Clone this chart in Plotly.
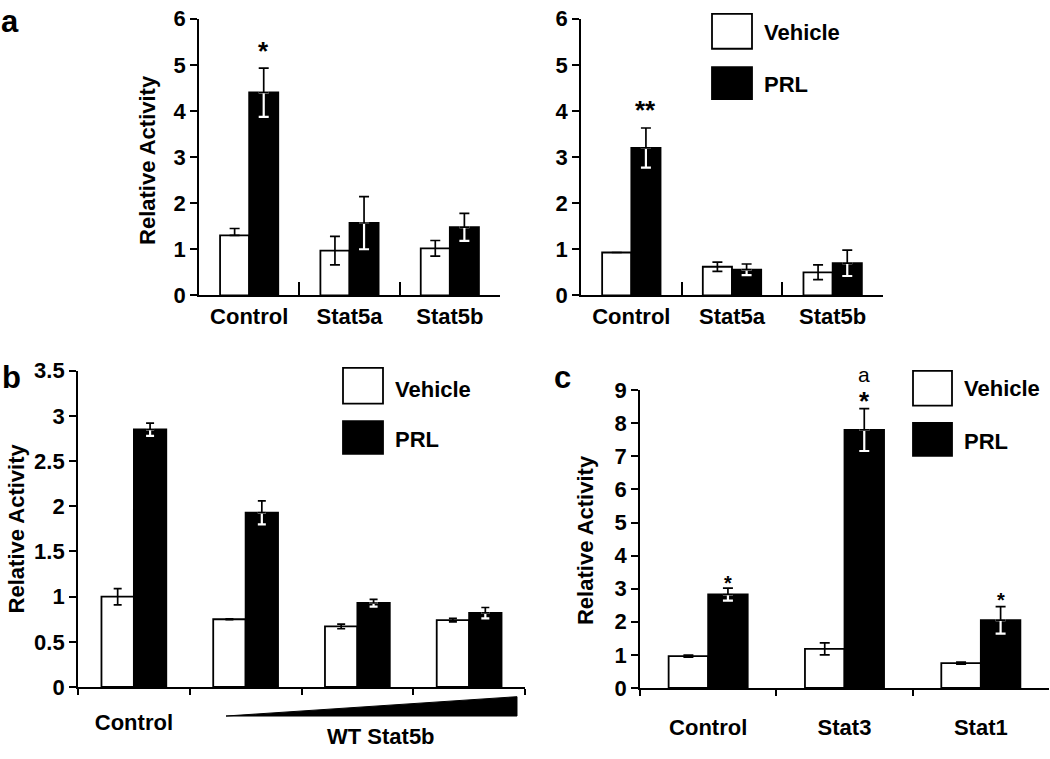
import plotly.graph_objects as go

# ---------------- data ----------------
a_cats = ["Control", "Stat5a", "Stat5b"]
a1_vehicle = [1.30, 0.97, 1.02]
a1_vehicle_err_hi = [0.15, 0.31, 0.17]
a1_vehicle_err_lo = [0.0, 0.31, 0.17]
a1_prl = [4.40, 1.57, 1.48]
a1_prl_err = [0.53, 0.57, 0.30]

a2_vehicle = [0.93, 0.62, 0.50]
a2_vehicle_err_hi = [0.0, 0.10, 0.16]
a2_vehicle_err_lo = [0.0, 0.10, 0.16]
a2_prl = [3.20, 0.56, 0.70]
a2_prl_err = [0.43, 0.12, 0.28]

b_cats = ["Control", "Stat5b low", "Stat5b mid", "Stat5b high"]
b_ticktext = ["Control", "", "", ""]
b_vehicle = [1.00, 0.75, 0.67, 0.74]
b_vehicle_err_hi = [0.09, 0.005, 0.025, 0.02]
b_vehicle_err_lo = [0.09, 0.005, 0.025, 0.02]
b_prl = [2.85, 1.93, 0.93, 0.82]
b_prl_err = [0.07, 0.13, 0.04, 0.06]

c_cats = ["Control", "Stat3", "Stat1"]
c_vehicle = [0.96, 1.18, 0.75]
c_vehicle_err_hi = [0.03, 0.18, 0.03]
c_vehicle_err_lo = [0.03, 0.18, 0.03]
c_prl = [2.83, 7.80, 2.05]
c_prl_err = [0.19, 0.64, 0.41]

# significance marks: (panel, category index, y, text, size, bold, extra px shift)
marks = [
    ("a1", 0, 5.20, "*", 26, True, 8),
    ("a2", 0, 3.93, "**", 26, True, 7),
    ("c", 0, 3.30, "*", 20, True, -2),
    ("c", 1, 8.77, "*", 26, True, 0),
    ("c", 1, 9.00, "a", 21, False, 16),
    ("c", 2, 2.78, "*", 20, True, -2),
]

FONT = "Liberation Sans, Arial, Helvetica, sans-serif"
W, H = 1050, 759

fig = go.Figure()

panels = {
    "a1": dict(ax="", cats=a_cats, v=a1_vehicle, vh=a1_vehicle_err_hi,
               vl=a1_vehicle_err_lo, p=a1_prl, pe=a1_prl_err, cap=5),
    "a2": dict(ax="2", cats=a_cats, v=a2_vehicle, vh=a2_vehicle_err_hi,
               vl=a2_vehicle_err_lo, p=a2_prl, pe=a2_prl_err, cap=5),
    "b": dict(ax="3", cats=b_cats, v=b_vehicle, vh=b_vehicle_err_hi,
              vl=b_vehicle_err_lo, p=b_prl, pe=b_prl_err, cap=4),
    "c": dict(ax="4", cats=c_cats, v=c_vehicle, vh=c_vehicle_err_hi,
              vl=c_vehicle_err_lo, p=c_prl, pe=c_prl_err, cap=5),
}

for key, P in panels.items():
    xa, ya = "x" + P["ax"], "y" + P["ax"]
    zeros = [0] * len(P["cats"])
    fig.add_trace(go.Bar(
        x=P["cats"], y=P["v"], xaxis=xa, yaxis=ya, offsetgroup="v",
        marker=dict(color="white", line=dict(color="black", width=1.8)),
        error_y=dict(type="data", array=P["vh"], arrayminus=P["vl"],
                     symmetric=False, color="black",
                     thickness=1.7, width=P["cap"]),
        showlegend=False, name="Vehicle"))
    fig.add_trace(go.Bar(
        x=P["cats"], y=P["p"], xaxis=xa, yaxis=ya, offsetgroup="p",
        marker=dict(color="black", line=dict(color="black", width=1.8)),
        error_y=dict(type="data", symmetric=False, array=zeros,
                     arrayminus=P["pe"], color="white", thickness=2.2,
                     width=P["cap"]),
        showlegend=False, name="PRL"))
    fig.add_trace(go.Bar(
        x=P["cats"], y=P["p"], xaxis=xa, yaxis=ya, offsetgroup="p",
        marker=dict(color="rgba(0,0,0,0)", line=dict(width=0)),
        error_y=dict(type="data", symmetric=False, array=P["pe"],
                     arrayminus=zeros, color="black", thickness=1.7,
                     width=P["cap"]),
        showlegend=False, name="PRL", hoverinfo="skip"))

axis_common = dict(showline=True, linecolor="black", linewidth=1.8,
                   showgrid=False, zeroline=False)


def set_axes(n, xdom, ydom, yrange, dtick, cats, ticktext, xticks, xticklen,
             standoff):
    sfx = n
    fig.layout["xaxis" + sfx] = dict(
        axis_common, domain=xdom, type="category", tickson="boundaries",
        tickmode="array", tickvals=cats, ticktext=ticktext,
        ticks=xticks, ticklen=xticklen, tickwidth=1.8, tickcolor="black",
        ticklabelstandoff=standoff,
        range=[-0.5, len(cats) - 0.5], anchor="y" + sfx,
        tickfont=dict(family=FONT, size=22, color="black", weight="bold"))
    fig.layout["yaxis" + sfx] = dict(
        axis_common, domain=ydom, range=yrange, dtick=dtick, tick0=0,
        ticks="outside", ticklen=7, tickwidth=1.8, tickcolor="black",
        anchor="x" + sfx,
        tickfont=dict(family=FONT, size=22, color="black", weight="bold"))


def px_x(x):
    return x / W


def px_y(y):
    return (H - y) / H


set_axes("", [px_x(199), px_x(500)], [px_y(293), px_y(7)], [0, 6], 1,
         a_cats, a_cats, "inside", 13, 0)
set_axes("2", [px_x(581), px_x(883)], [px_y(293), px_y(7)], [0, 6], 1,
         a_cats, a_cats, "inside", 13, 0)
set_axes("3", [px_x(78), px_x(525)], [px_y(698), px_y(371)], [0, 3.5], 0.5,
         b_cats, b_ticktext, "outside", 6, 15)
set_axes("4", [px_x(640), px_x(1049)], [px_y(699), px_y(391)], [0, 9], 1,
         c_cats, c_cats, "outside", 6, 19)

annotations = []
panel_axis = {k: P["ax"] for k, P in panels.items()}
for key, idx, yv, txt, size, bold, extra in marks:
    ax = panel_axis[key]
    annotations.append(dict(
        x=idx + 0.145, y=yv, xref="x" + ax, yref="y" + ax, text=txt,
        showarrow=False, xanchor="center", yanchor="middle",
        yshift=((-0.12 * size) if txt != "a" else 0) + extra,
        font=dict(family=FONT, size=size, color="black",
                  weight="bold" if bold else "normal")))

# y-axis titles
for (cx, cy) in [(148, 153), (16, 534), (585, 546)]:
    annotations.append(dict(
        x=px_x(cx), y=px_y(cy), xref="paper", yref="paper",
        xanchor="center", yanchor="middle",
        text="Relative Activity", textangle=-90, showarrow=False,
        font=dict(family=FONT, size=22, color="black", weight="bold")))

# panel letters
for (lx, ly, t) in [(10, 10, "a"), (11, 378, "b"), (562, 378, "c")]:
    annotations.append(dict(
        x=px_x(lx), y=px_y(ly), xref="paper", yref="paper", text=t,
        xanchor="center", yanchor="middle",
        showarrow=False, font=dict(family=FONT, size=31, color="black",
                                   weight="bold")))

# legends (boxes + labels)
shapes = []
legend_defs = [
    # white box x0,x1,y0,y1 ; black box y0,y1 ; text x ; text ys
    (712, 752, 2, 38, 57, 90, 762, 21, 75),
    (343, 383, 368, 405, 423, 457, 393, 390, 442),
    (913, 952, 371, 407, 425, 459, 962, 389, 444),
]
for x0, x1, wy0, wy1, by0, by1, tx, ty1, ty2 in legend_defs:
    shapes.append(dict(type="rect", xref="paper", yref="paper",
                       x0=px_x(x0), x1=px_x(x1), y0=px_y(wy1), y1=px_y(wy0),
                       fillcolor="white", line=dict(color="black", width=1.8)))
    shapes.append(dict(type="rect", xref="paper", yref="paper",
                       x0=px_x(x0), x1=px_x(x1), y0=px_y(by1), y1=px_y(by0),
                       fillcolor="black", line=dict(color="black", width=1.8)))
    for ty, t in [(ty1, "Vehicle"), (ty2, "PRL")]:
        annotations.append(dict(
            x=px_x(tx), y=px_y(ty), xref="paper", yref="paper", text=t,
            xanchor="left", yanchor="middle", showarrow=False,
            font=dict(family=FONT, size=22, color="black", weight="bold")))

# dose triangle in panel b and its label
shapes.append(dict(
    type="path", xref="paper", yref="paper",
    path="M {:.5f},{:.5f} L {:.5f},{:.5f} L {:.5f},{:.5f} Z".format(
        px_x(226), px_y(728), px_x(517), px_y(728), px_x(517), px_y(708)),
    fillcolor="black", line=dict(color="black", width=1)))
annotations.append(dict(
    x=px_x(381), y=px_y(749), xref="paper", yref="paper", text="WT Stat5b",
    xanchor="center", yanchor="middle",
    showarrow=False, font=dict(family=FONT, size=22, color="black",
                               weight="bold")))

fig.update_layout(
    width=W, height=H, margin=dict(l=0, r=0, t=0, b=0),
    paper_bgcolor="white", plot_bgcolor="white",
    barmode="group", bargap=0.42, bargroupgap=0,
    annotations=annotations, shapes=shapes, showlegend=False,
)

fig.write_html(
    "out.html",
    config={"displayModeBar": False},
    post_script="document.body.style.margin='0';document.body.style.overflow='hidden';",
)
